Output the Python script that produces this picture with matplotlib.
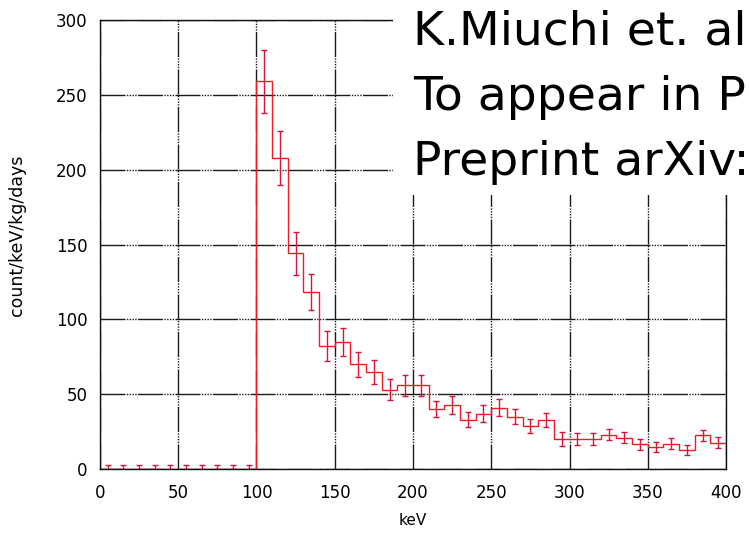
import numpy as np
import matplotlib
matplotlib.use('Agg')
import matplotlib.pyplot as plt
from matplotlib.patches import Rectangle

# energy spectrum, 10 keV bins from 0 to 400 keV
edges = np.arange(0, 410, 10)
centers = edges[:-1] + 5

# count/keV/kg/days per bin, nothing recorded below 100 keV
rate = [0, 0, 0, 0, 0, 0, 0, 0, 0, 0,
        259, 208, 144, 118, 82, 85, 70, 65, 53, 56,
        56, 40, 43, 33, 37, 41, 35, 29, 33, 20,
        20, 20, 23, 21, 16.5, 15, 17, 12.7, 22.5, 17.7]
err = [3, 3, 3, 3, 3, 3, 3, 3, 3, 3,
       21, 18, 14.5, 12, 10, 9.5, 8.5, 8, 7, 7,
       7, 5.5, 6, 5, 5.5, 5.6, 5, 4.7, 4.7, 4.5,
       4, 3.8, 3.8, 3.8, 3.8, 3.3, 3.8, 3.6, 3.6, 3.9]

xticks = [0, 50, 100, 150, 200, 250, 300, 350, 400]
yticks = [0, 50, 100, 150, 200, 250, 300]

notes = ["K.Miuchi et. al", "To appear in P", "Preprint arXiv:"]

fig = plt.figure(figsize=(7.49, 5.33), dpi=100)
ax = fig.add_axes([0.1335, 0.12, 0.8358, 0.8425])

red = '#ec1b24'
ax.stairs(rate, edges, baseline=None, color=red, linewidth=1.0, zorder=2)
ax.errorbar(centers, rate, yerr=err, fmt='none', ecolor='#d8143a',
            elinewidth=1.0, capsize=2.3, capthick=1.0, zorder=2.1)

ax.set_xlim(0, 400)
ax.set_ylim(0, 300)
ax.set_xticks(xticks)
ax.set_yticks(yticks)
ax.set_axisbelow(True)
ax.grid(True, color='#1a1a1a', linewidth=1.0,
        linestyle=(0, (18, 1, 1, 1, 1, 1, 1, 1, 1, 1)))
ax.tick_params(axis='both', length=0, labelsize=12)
ax.tick_params(axis='x', pad=11)
ax.tick_params(axis='y', pad=9)
for s in ax.spines.values():
    s.set_linewidth(1.0)
    s.set_color('#111111')

ax.set_xlabel('keV', fontsize=11)
ax.set_ylabel('count/keV/kg/days', fontsize=12.5)
ax.yaxis.set_label_coords(-0.118, 0.52)
ax.xaxis.set_label_coords(0.5, -0.098)

# white panel with the reference note, top right
fig.add_artist(Rectangle((393 / 749, 1 - 195 / 533), 1.0, 1.0,
                         transform=fig.transFigure, facecolor='white',
                         edgecolor='none', zorder=5))
for i, line in enumerate(notes):
    fig.text(413 / 749, 1 - (45 + 65 * i) / 533, line, fontsize=34,
             va='baseline', ha='left', color='black', zorder=6)

fig.savefig('out.png', dpi=100)
